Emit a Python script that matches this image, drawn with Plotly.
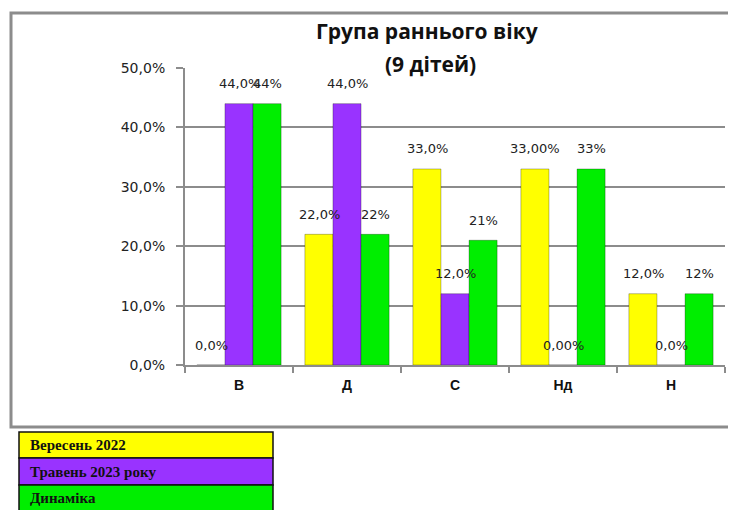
import plotly.graph_objects as go

categories = ["В", "Д", "С", "Нд", "Н"]
series_names = ["Вересень 2022", "Травень 2023 року", "Динаміка"]
sep_values = [0.0, 0.22, 0.33, 0.33, 0.12]
may_values = [0.44, 0.44, 0.12, 0.0, 0.0]
dyn_values = [0.44, 0.22, 0.21, 0.33, 0.12]
sep_labels = ["0,0%", "22,0%", "33,0%", "33,00%", "12,0%"]
may_labels = ["44,0%", "44,0%", "12,0%", "0,00%", "0,0%"]
dyn_labels = ["44%", "22%", "21%", "33%", "12%"]
title_line1 = "Група раннього віку"
title_line2 = "(9 дітей)"

colors = ["#FFFF00", "#9933FF", "#00EE00"]
all_values = [sep_values, may_values, dyn_values]
all_labels = [sep_labels, may_labels, dyn_labels]

# page body has an 8px margin; target coordinates below are viewport pixels
OFF = 8
W, H = 736, 510
ML = 185 - OFF
MT = 68 - OFF
PW, PH = 540, 297
MR = W - ML - PW
MB = H - MT - PH


def px_x(px):
    return (px - OFF - ML) / PW


def px_y(py):
    return (MT + PH - (py - OFF)) / PH


fig = go.Figure()
for name, vals, col in zip(series_names, all_values, colors):
    fig.add_trace(go.Bar(x=categories, y=vals, name=name,
                         marker=dict(color=col, line=dict(color="rgba(0,0,0,0.35)", width=0.8)),
                         hoverinfo="skip"))

annotations = []
offsets = [-28, 0, 28]
for labels, vals, off in zip(all_labels, all_values, offsets):
    for c, v, t in zip(categories, vals, labels):
        annotations.append(dict(x=c, y=v, xref="x", yref="y", text=t, showarrow=False,
                                xshift=off, yshift=20, yanchor="middle",
                                font=dict(family="DejaVu Sans", size=13, color="#222222")))

annotations.append(dict(x=px_x(427), y=px_y(31), xref="paper", yref="paper",
                        text="<b>" + title_line1 + "</b>",
                        showarrow=False, xanchor="center", yanchor="middle",
                        font=dict(family="Open Sans", size=21, color="#111111")))
annotations.append(dict(x=px_x(430), y=px_y(64), xref="paper", yref="paper",
                        text="<b>" + title_line2 + "</b>",
                        showarrow=False, xanchor="center", yanchor="middle",
                        font=dict(family="Open Sans", size=21, color="#111111")))

shapes = [dict(type="rect", xref="paper", yref="paper",
               x0=px_x(11), x1=px_x(760), y0=px_y(427), y1=px_y(13),
               line=dict(color="#8c8c8c", width=3), layer="below")]

row_tops = [432, 458, 485]
row_bots = [458, 485, 512]
for name, col, t, b in zip(series_names, colors, row_tops, row_bots):
    shapes.append(dict(type="rect", xref="paper", yref="paper",
                       x0=px_x(19), x1=px_x(273), y0=px_y(b), y1=px_y(t),
                       fillcolor=col, line=dict(color="#111111", width=1.5)))
    annotations.append(dict(x=px_x(28), y=px_y((t + b) / 2), xref="paper", yref="paper",
                            text="<b>" + name + "</b>", showarrow=False,
                            xanchor="left", yanchor="middle",
                            font=dict(family="Liberation Serif", size=15, color="#111111")))

fig.update_layout(
    width=W, height=H,
    margin=dict(l=ML, r=MR, t=MT, b=MB),
    paper_bgcolor="white", plot_bgcolor="white",
    barmode="group", bargap=0.22, bargroupgap=0,
    showlegend=False,
    separators=", ",
    annotations=annotations,
    shapes=shapes,
    xaxis=dict(type="category", showline=True, linecolor="#8c8c8c", linewidth=2,
               ticks="outside", tickson="boundaries", ticklen=6, tickcolor="#8c8c8c",
               tickwidth=2, showgrid=False, ticklabelstandoff=6,
               tickfont=dict(family="Liberation Sans", size=14, color="#111111", weight="bold")),
    yaxis=dict(range=[0, 0.5], tickvals=[0, 0.1, 0.2, 0.3, 0.4, 0.5], tickformat=".1%",
               showline=True, linecolor="#8c8c8c", linewidth=2,
               ticks="outside", ticklen=7, tickcolor="#8c8c8c", tickwidth=2,
               showgrid=True, gridcolor="#8c8c8c", gridwidth=2, zeroline=False,
               ticklabelstandoff=8,
               tickfont=dict(family="DejaVu Sans", size=14, color="#222222")),
)

fig.write_html("out.html")
